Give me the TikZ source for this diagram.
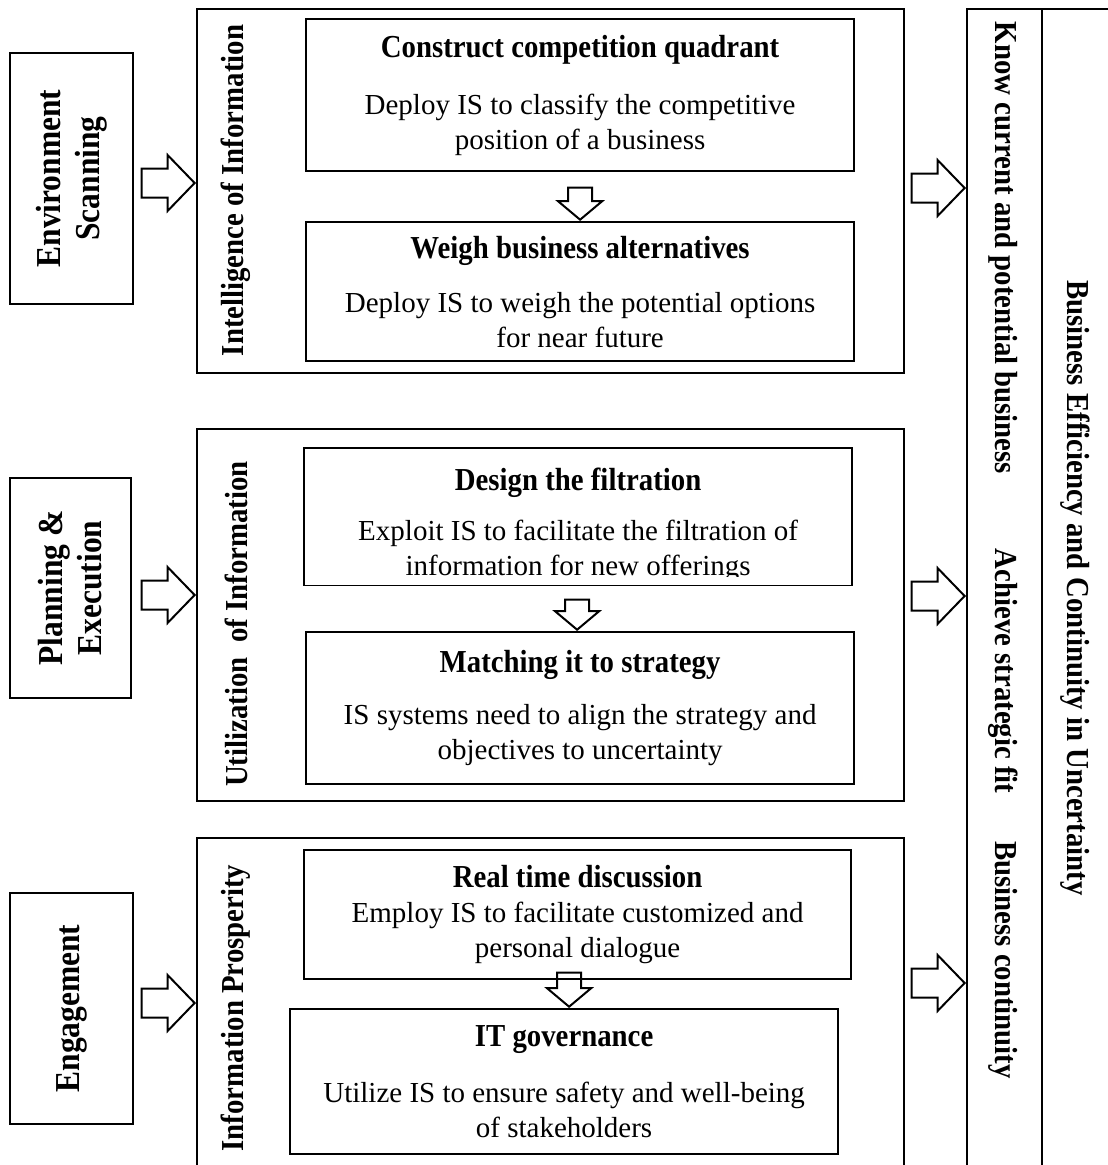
\documentclass[tikz,border=0pt]{standalone}
\usepackage{fontspec}
\setmainfont{Liberation Serif}
\newfontfamily\condfont{Liberation Serif}[FakeStretch=0.9]
\usepackage{tikz}
\usetikzlibrary{arrows,shapes,positioning}
\newcommand{\tasktitle}[1]{{\condfont\bfseries\fontsize{32}{35}\selectfont #1}}
\tikzstyle{stage} = [rectangle, draw, line width=2.4pt, align=center, rotate=90, inner sep=0pt, font=\condfont\bfseries\fontsize{35}{39}\selectfont]
\tikzstyle{panel} = [rectangle, draw, line width=2pt, anchor=north west, inner sep=0pt]
\tikzstyle{task} = [rectangle, draw, line width=2.2pt, align=center, anchor=north west, inner sep=0pt, font=\fontsize{29}{35}\selectfont]
\tikzstyle{sidelabel} = [rotate=90, inner sep=0pt, font=\condfont\bfseries\fontsize{32}{35}\selectfont]
\tikzstyle{outlabel} = [rotate=-90, inner sep=0pt, font=\condfont\bfseries\fontsize{32}{35}\selectfont]
\tikzstyle{bigarrow} = [single arrow, draw, line width=2pt, inner xsep=0pt, inner ysep=13.5pt, minimum height=53pt, single arrow head extend=13.5pt, single arrow tip angle=92, anchor=tip]
\tikzstyle{smallarrow} = [single arrow, draw, line width=2pt, inner xsep=0pt, inner ysep=11pt, minimum height=32pt, single arrow head extend=10pt, single arrow tip angle=100, rotate=-90, anchor=tip]

\begin{document}
\begin{tikzpicture}[x=1pt, y=-1pt]
\useasboundingbox (0,0) rectangle (1108,1165);
% Stages on the left
\node (env_scan) [stage, minimum width=251pt, minimum height=123pt] at (71.5,178.5) {Environment\\Scanning};
\node (plan_exec) [stage, minimum width=220pt, minimum height=121pt] at (70.5,588) {Planning \&\\Execution};
\node (engage) [stage, minimum width=231pt, minimum height=123pt] at (71.5,1008.5) {Engagement};

% Panels with their side labels
\node (intel_panel) [panel, minimum width=707pt, minimum height=364pt] at (196,8) {};
\node (util_panel) [panel, minimum width=707pt, minimum height=372pt] at (196,428) {};
\node (prosp_panel) [panel, minimum width=707pt, minimum height=360pt] at (196,837) {};
\node (intel_label) [sidelabel] at (236,190.5) {Intelligence of Information};
\node (util_label) [sidelabel] at (236,624) {Utilization\ \ of Information};
\node (prosp_label) [sidelabel] at (236,1008) {Information Prosperity};

% Tasks inside the panels
\node (task_a) [task, minimum width=548pt, minimum height=152pt] at (305,18) {\tasktitle{Construct competition quadrant}\\[22pt]Deploy IS to classify the competitive\\position of a business};
\node (task_b) [task, minimum width=548pt, minimum height=139pt] at (305,221) {\tasktitle{Weigh business alternatives}\\[19pt]Deploy IS to weigh the potential options\\for near future};
\node (task_c) [task, minimum width=548pt, minimum height=137pt] at (303,447) {\rule{0pt}{40pt}\tasktitle{Design the filtration}\\[15pt]Exploit IS to facilitate the filtration of\\information for new offerings};
\fill[white] ([xshift=2pt,yshift=1.3pt]task_c.south west) rectangle ([xshift=-2pt,yshift=9pt]task_c.south east);
\node (task_d) [task, minimum width=548pt, minimum height=152pt] at (305,631) {\tasktitle{Matching it to strategy}\\[17pt]IS systems need to align the strategy and\\objectives to uncertainty};
\node (task_e) [task, minimum width=547pt, minimum height=129pt] at (303,849) {\tasktitle{Real time discussion}\\Employ IS to facilitate customized and\\personal dialogue};
\node (task_f) [task, minimum width=548pt, minimum height=145pt] at (289,1008) {\tasktitle{IT governance}\\[21pt]Utilize IS to ensure safety and well-being\\of stakeholders};

% Arrows between tasks
\node (ab_arrow) [smallarrow] at (task_b.north) {};
\node (cd_arrow) [smallarrow, minimum height=30pt] at ([xshift=-3pt]task_d.north) {};
\node (ef_arrow) [smallarrow, minimum height=34pt] at ([xshift=5pt]task_f.north) {};

% Outcome column
\node (outcome_box) [panel, line width=2.4pt, minimum width=160pt, minimum height=1200pt] at (966,8) {};
\draw[line width=2.2pt] ([xshift=76pt]outcome_box.north west) -- ([xshift=76pt]outcome_box.south west);
\node (know_label) [outlabel] at (1003,248) {Know current and potential business};
\node (fit_label) [outlabel] at (1003,671) {Achieve strategic fit};
\node (cont_label) [outlabel] at (1003,960) {Business continuity};
\node (overall_label) [outlabel] at (1075,588) {Business Efficiency and Continuity in Uncertainty};

% Block arrows
\node (env_arrow) [bigarrow] at (intel_panel.west |- 0,183) {};
\node (plan_arrow) [bigarrow] at (util_panel.west |- 0,595) {};
\node (engage_arrow) [bigarrow] at (prosp_panel.west |- 0,1003) {};
\node (intel_out) [bigarrow] at (outcome_box.west |- 0,188) {};
\node (util_out) [bigarrow] at (outcome_box.west |- 0,596) {};
\node (prosp_out) [bigarrow] at (outcome_box.west |- 0,983) {};
\end{tikzpicture}
\end{document}
